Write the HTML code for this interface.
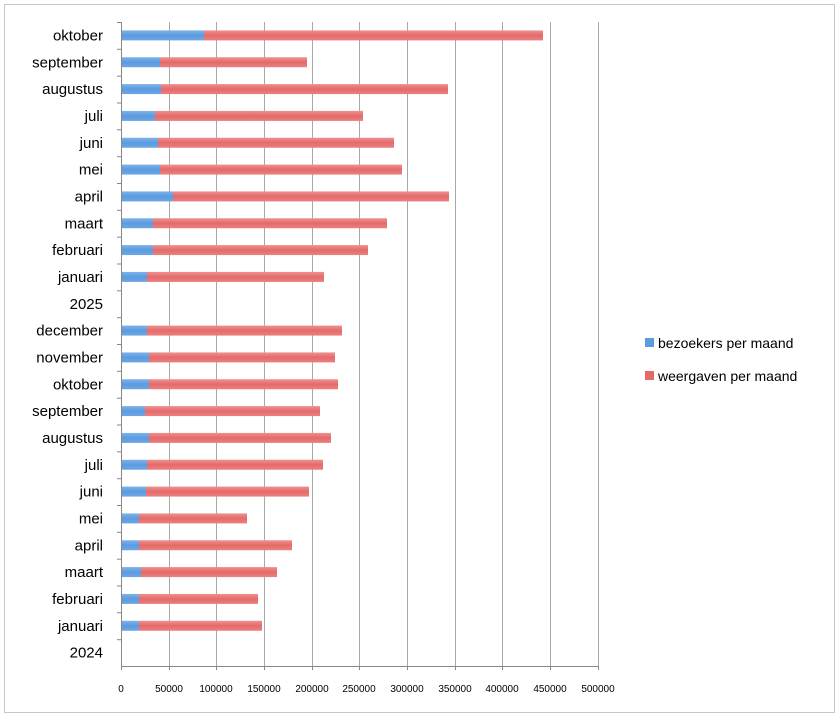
<!DOCTYPE html>
<html><head><meta charset="utf-8"><style>
html,body{margin:0;padding:0;background:#fff;}
svg{display:block;font-family:"Liberation Sans",sans-serif;}
</style></head><body>
<svg width="840" height="716" viewBox="0 0 840 716" xmlns="http://www.w3.org/2000/svg">
<defs>
<linearGradient id="b" x1="0" y1="0" x2="0" y2="1"><stop offset="0" stop-color="#7fb2e8"/><stop offset="0.5" stop-color="#5b9be0"/><stop offset="1" stop-color="#6ea6e2"/></linearGradient>
<linearGradient id="r" x1="0" y1="0" x2="0" y2="1"><stop offset="0" stop-color="#f09090"/><stop offset="0.5" stop-color="#e46a6a"/><stop offset="1" stop-color="#ec8080"/></linearGradient>
</defs>
<rect x="0" y="0" width="840" height="716" fill="#fff"/>
<rect x="4.5" y="4.5" width="830" height="708" fill="#fff" stroke="#c8c8c8"/>
<g stroke="#a8a8a8" stroke-width="1">
<line x1="169.5" y1="22" x2="169.5" y2="666"/><line x1="216.5" y1="22" x2="216.5" y2="666"/>
<line x1="264.5" y1="22" x2="264.5" y2="666"/><line x1="312.5" y1="22" x2="312.5" y2="666"/>
<line x1="359.5" y1="22" x2="359.5" y2="666"/><line x1="407.5" y1="22" x2="407.5" y2="666"/>
<line x1="455.5" y1="22" x2="455.5" y2="666"/><line x1="502.5" y1="22" x2="502.5" y2="666"/>
<line x1="550.5" y1="22" x2="550.5" y2="666"/><line x1="598.5" y1="22" x2="598.5" y2="666"/>
</g>
<g stroke="#888" stroke-width="1">
<line x1="121.5" y1="22" x2="121.5" y2="667"/>
<line x1="121" y1="666.5" x2="598" y2="666.5"/>
<line x1="117" x2="121" y1="22.5" y2="22.5"/><line x1="117" x2="121" y1="49.3" y2="49.3"/>
<line x1="117" x2="121" y1="76.2" y2="76.2"/><line x1="117" x2="121" y1="103" y2="103"/>
<line x1="117" x2="121" y1="129.8" y2="129.8"/><line x1="117" x2="121" y1="156.7" y2="156.7"/>
<line x1="117" x2="121" y1="183.5" y2="183.5"/><line x1="117" x2="121" y1="210.3" y2="210.3"/>
<line x1="117" x2="121" y1="237.2" y2="237.2"/><line x1="117" x2="121" y1="264" y2="264"/>
<line x1="117" x2="121" y1="290.8" y2="290.8"/><line x1="117" x2="121" y1="317.7" y2="317.7"/>
<line x1="117" x2="121" y1="344.5" y2="344.5"/><line x1="117" x2="121" y1="371.3" y2="371.3"/>
<line x1="117" x2="121" y1="398.2" y2="398.2"/><line x1="117" x2="121" y1="425" y2="425"/>
<line x1="117" x2="121" y1="451.8" y2="451.8"/><line x1="117" x2="121" y1="478.7" y2="478.7"/>
<line x1="117" x2="121" y1="505.5" y2="505.5"/><line x1="117" x2="121" y1="532.3" y2="532.3"/>
<line x1="117" x2="121" y1="559.2" y2="559.2"/><line x1="117" x2="121" y1="586" y2="586"/>
<line x1="117" x2="121" y1="612.8" y2="612.8"/><line x1="117" x2="121" y1="639.7" y2="639.7"/>
<line x1="121.5" x2="121.5" y1="666" y2="670"/><line x1="169.5" x2="169.5" y1="666" y2="670"/>
<line x1="216.5" x2="216.5" y1="666" y2="670"/><line x1="264.5" x2="264.5" y1="666" y2="670"/>
<line x1="312.5" x2="312.5" y1="666" y2="670"/><line x1="359.5" x2="359.5" y1="666" y2="670"/>
<line x1="407.5" x2="407.5" y1="666" y2="670"/><line x1="455.5" x2="455.5" y1="666" y2="670"/>
<line x1="502.5" x2="502.5" y1="666" y2="670"/><line x1="550.5" x2="550.5" y1="666" y2="670"/>
<line x1="598.5" x2="598.5" y1="666" y2="670"/>
</g>
<g>
<rect x="122" y="30.4" width="82" height="10" fill="url(#b)"/><rect x="204" y="30.4" width="339" height="10" fill="url(#r)"/>
<rect x="122" y="57.25" width="38" height="10" fill="url(#b)"/><rect x="160" y="57.25" width="147" height="10" fill="url(#r)"/>
<rect x="122" y="84.08" width="39" height="10" fill="url(#b)"/><rect x="161" y="84.08" width="287" height="10" fill="url(#r)"/>
<rect x="122" y="110.92" width="33" height="10" fill="url(#b)"/><rect x="155" y="110.92" width="208" height="10" fill="url(#r)"/>
<rect x="122" y="137.75" width="36" height="10" fill="url(#b)"/><rect x="158" y="137.75" width="236" height="10" fill="url(#r)"/>
<rect x="122" y="164.58" width="38" height="10" fill="url(#b)"/><rect x="160" y="164.58" width="242" height="10" fill="url(#r)"/>
<rect x="122" y="191.42" width="51" height="10" fill="url(#b)"/><rect x="173" y="191.42" width="276" height="10" fill="url(#r)"/>
<rect x="122" y="218.25" width="31" height="10" fill="url(#b)"/><rect x="153" y="218.25" width="234" height="10" fill="url(#r)"/>
<rect x="122" y="245.08" width="31" height="10" fill="url(#b)"/><rect x="153" y="245.08" width="215" height="10" fill="url(#r)"/>
<rect x="122" y="271.92" width="25" height="10" fill="url(#b)"/><rect x="147" y="271.92" width="177" height="10" fill="url(#r)"/>
<rect x="122" y="325.58" width="25" height="10" fill="url(#b)"/><rect x="147" y="325.58" width="195" height="10" fill="url(#r)"/>
<rect x="122" y="352.42" width="27" height="10" fill="url(#b)"/><rect x="149" y="352.42" width="186" height="10" fill="url(#r)"/>
<rect x="122" y="379.25" width="27" height="10" fill="url(#b)"/><rect x="149" y="379.25" width="189" height="10" fill="url(#r)"/>
<rect x="122" y="406.08" width="23" height="10" fill="url(#b)"/><rect x="145" y="406.08" width="175" height="10" fill="url(#r)"/>
<rect x="122" y="432.92" width="27" height="10" fill="url(#b)"/><rect x="149" y="432.92" width="182" height="10" fill="url(#r)"/>
<rect x="122" y="459.75" width="25" height="10" fill="url(#b)"/><rect x="147" y="459.75" width="176" height="10" fill="url(#r)"/>
<rect x="122" y="486.58" width="24" height="10" fill="url(#b)"/><rect x="146" y="486.58" width="163" height="10" fill="url(#r)"/>
<rect x="122" y="513.42" width="17" height="10" fill="url(#b)"/><rect x="139" y="513.42" width="108" height="10" fill="url(#r)"/>
<rect x="122" y="540.25" width="17" height="10" fill="url(#b)"/><rect x="139" y="540.25" width="153" height="10" fill="url(#r)"/>
<rect x="122" y="567.08" width="19" height="10" fill="url(#b)"/><rect x="141" y="567.08" width="136" height="10" fill="url(#r)"/>
<rect x="122" y="593.92" width="17" height="10" fill="url(#b)"/><rect x="139" y="593.92" width="119" height="10" fill="url(#r)"/>
<rect x="122" y="620.75" width="17" height="10" fill="url(#b)"/><rect x="139" y="620.75" width="123" height="10" fill="url(#r)"/>
</g>
<g font-size="15" fill="#000" text-anchor="end">
<text x="103" y="40.4">oktober</text>
<text x="103" y="67.25">september</text>
<text x="103" y="94.08">augustus</text>
<text x="103" y="120.92">juli</text>
<text x="103" y="147.75">juni</text>
<text x="103" y="174.58">mei</text>
<text x="103" y="201.42">april</text>
<text x="103" y="228.25">maart</text>
<text x="103" y="255.08">februari</text>
<text x="103" y="281.92">januari</text>
<text x="103" y="308.75">2025</text>
<text x="103" y="335.58">december</text>
<text x="103" y="362.42">november</text>
<text x="103" y="389.25">oktober</text>
<text x="103" y="416.08">september</text>
<text x="103" y="442.92">augustus</text>
<text x="103" y="469.75">juli</text>
<text x="103" y="496.58">juni</text>
<text x="103" y="523.42">mei</text>
<text x="103" y="550.25">april</text>
<text x="103" y="577.08">maart</text>
<text x="103" y="603.92">februari</text>
<text x="103" y="630.75">januari</text>
<text x="103" y="657.58">2024</text>
</g>
<g font-size="10" fill="#000" text-anchor="middle">
<text x="121" y="692">0</text><text x="169" y="692">50000</text>
<text x="216" y="692">100000</text><text x="264" y="692">150000</text>
<text x="312" y="692">200000</text><text x="359" y="692">250000</text>
<text x="407" y="692">300000</text><text x="455" y="692">350000</text>
<text x="502" y="692">400000</text><text x="550" y="692">450000</text>
<text x="598" y="692">500000</text>
</g>
<rect x="645" y="338" width="9" height="9" fill="#5b9be0"/>
<text x="658" y="348" font-size="14">bezoekers per maand</text>
<rect x="645" y="371" width="9" height="9" fill="#e46a6a"/>
<text x="658" y="381" font-size="14">weergaven per maand</text>
</svg>
</body></html>
